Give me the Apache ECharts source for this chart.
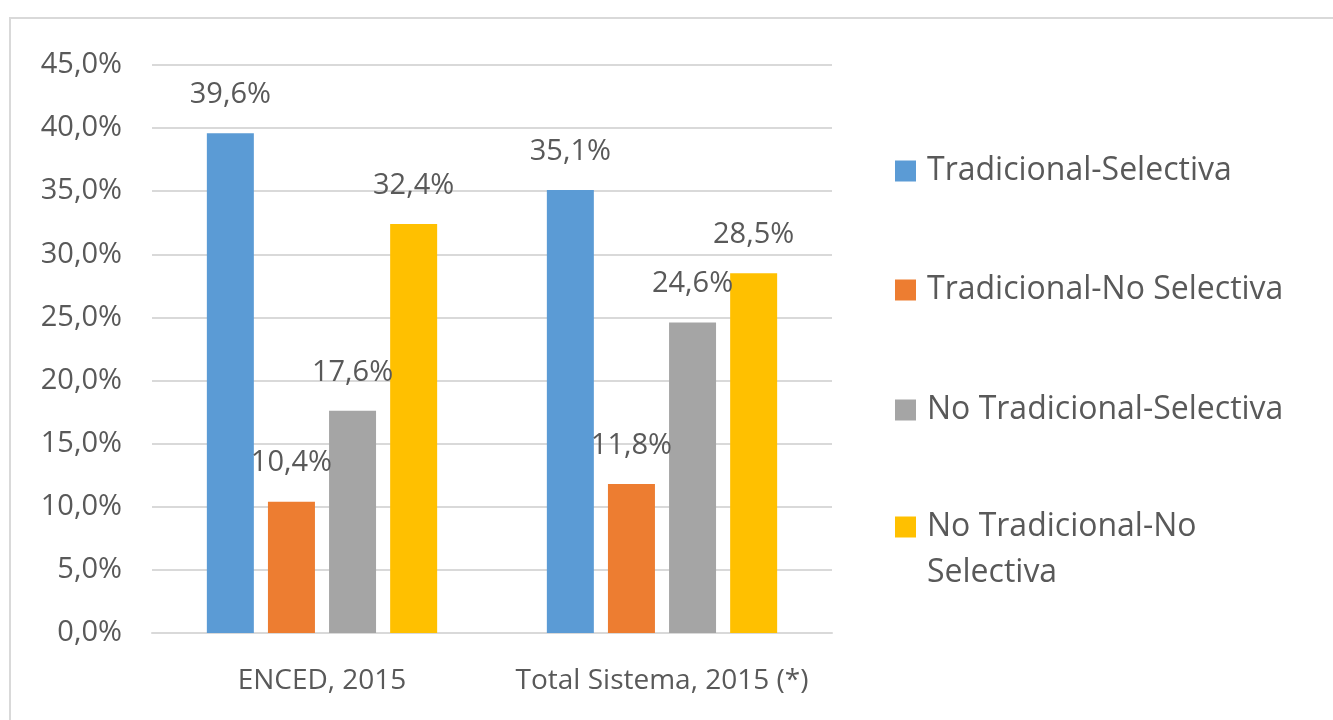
<!DOCTYPE html>
<html><head><meta charset="utf-8">
<script src="https://cdn.jsdelivr.net/npm/echarts@6/dist/echarts.min.js"></script>
<style>html,body{margin:0;padding:0;background:#fff}#c{width:1333px;height:720px}</style>
</head><body><div id="c"></div>
<script>
const categories = ['ENCED, 2015', 'Total Sistema, 2015 (*)'];
const seriesNames = ['Tradicional-Selectiva', 'Tradicional-No Selectiva', 'No Tradicional-Selectiva', 'No Tradicional-No Selectiva'];
const tradSel = [39.6, 35.1];
const tradNoSel = [10.4, 11.8];
const noTradSel = [17.6, 24.6];
const noTradNoSel = [32.4, 28.5];
const yTicks = [0, 5, 10, 15, 20, 25, 30, 35, 40, 45];

const colors = ['#5B9BD5', '#ED7D31', '#A5A5A5', '#FFC000'];
const values = [tradSel, tradNoSel, noTradSel, noTradNoSel];
const font = '"Open Sans", sans-serif';
const fmt = v => v.toFixed(1).replace('.', ',') + '%';

const chart = echarts.init(document.getElementById('c'));
const legendTops = [168, 287, 407, 524];
const legends = seriesNames.map((n, i) => ({
  data: [n], left: 895, top: legendTops[i] - 15, orient: 'vertical',
  itemWidth: 21, itemHeight: 21, icon: 'rect', padding: 0,
  formatter: i === 3 ? () => 'No Tradicional-No' : undefined,
  textStyle: { color: '#595959', fontFamily: font, fontSize: 32, lineHeight: 36, padding: [0, 0, 0, 6] },
  selectedMode: false
}));

chart.setOption({
  animation: false,
  color: colors,
  graphic: [
    { type: 'rect', shape: { x: 10, y: 18, width: 1400, height: 800 }, style: { fill: 'none', stroke: '#D9D9D9', lineWidth: 2 }, silent: true },
    { type: 'text', left: 927, top: 557, style: { text: 'Selectiva', fill: '#595959', font: '32px ' + font }, silent: true }
  ],
  legend: legends,
  grid: { left: 152, right: 1333 - 832, top: 65, bottom: 720 - 633, containLabel: false },
  xAxis: {
    type: 'category', data: categories,
    axisLine: { lineStyle: { color: '#D9D9D9', width: 2 } }, axisTick: { show: false },
    axisLabel: { color: '#595959', fontFamily: font, fontSize: 28, margin: 34, interval: 0, hideOverlap: false }
  },
  yAxis: {
    type: 'value', min: yTicks[0], max: yTicks[yTicks.length - 1], interval: 5,
    axisLine: { show: false }, axisTick: { show: false },
    splitLine: { lineStyle: { color: '#D9D9D9', width: 2 } },
    axisLabel: { color: '#595959', fontFamily: font, fontSize: 29, margin: 30, formatter: v => fmt(v) }
  },
  series: seriesNames.map((n, i) => ({
    name: n, type: 'bar', data: values[i], barWidth: 47, barGap: '30%',
    itemStyle: { color: colors[i] },
    label: { show: true, position: 'top', distance: 24, color: '#595959', fontFamily: font, fontSize: 29, formatter: p => fmt(p.value) }
  }))
});
</script></body></html>
